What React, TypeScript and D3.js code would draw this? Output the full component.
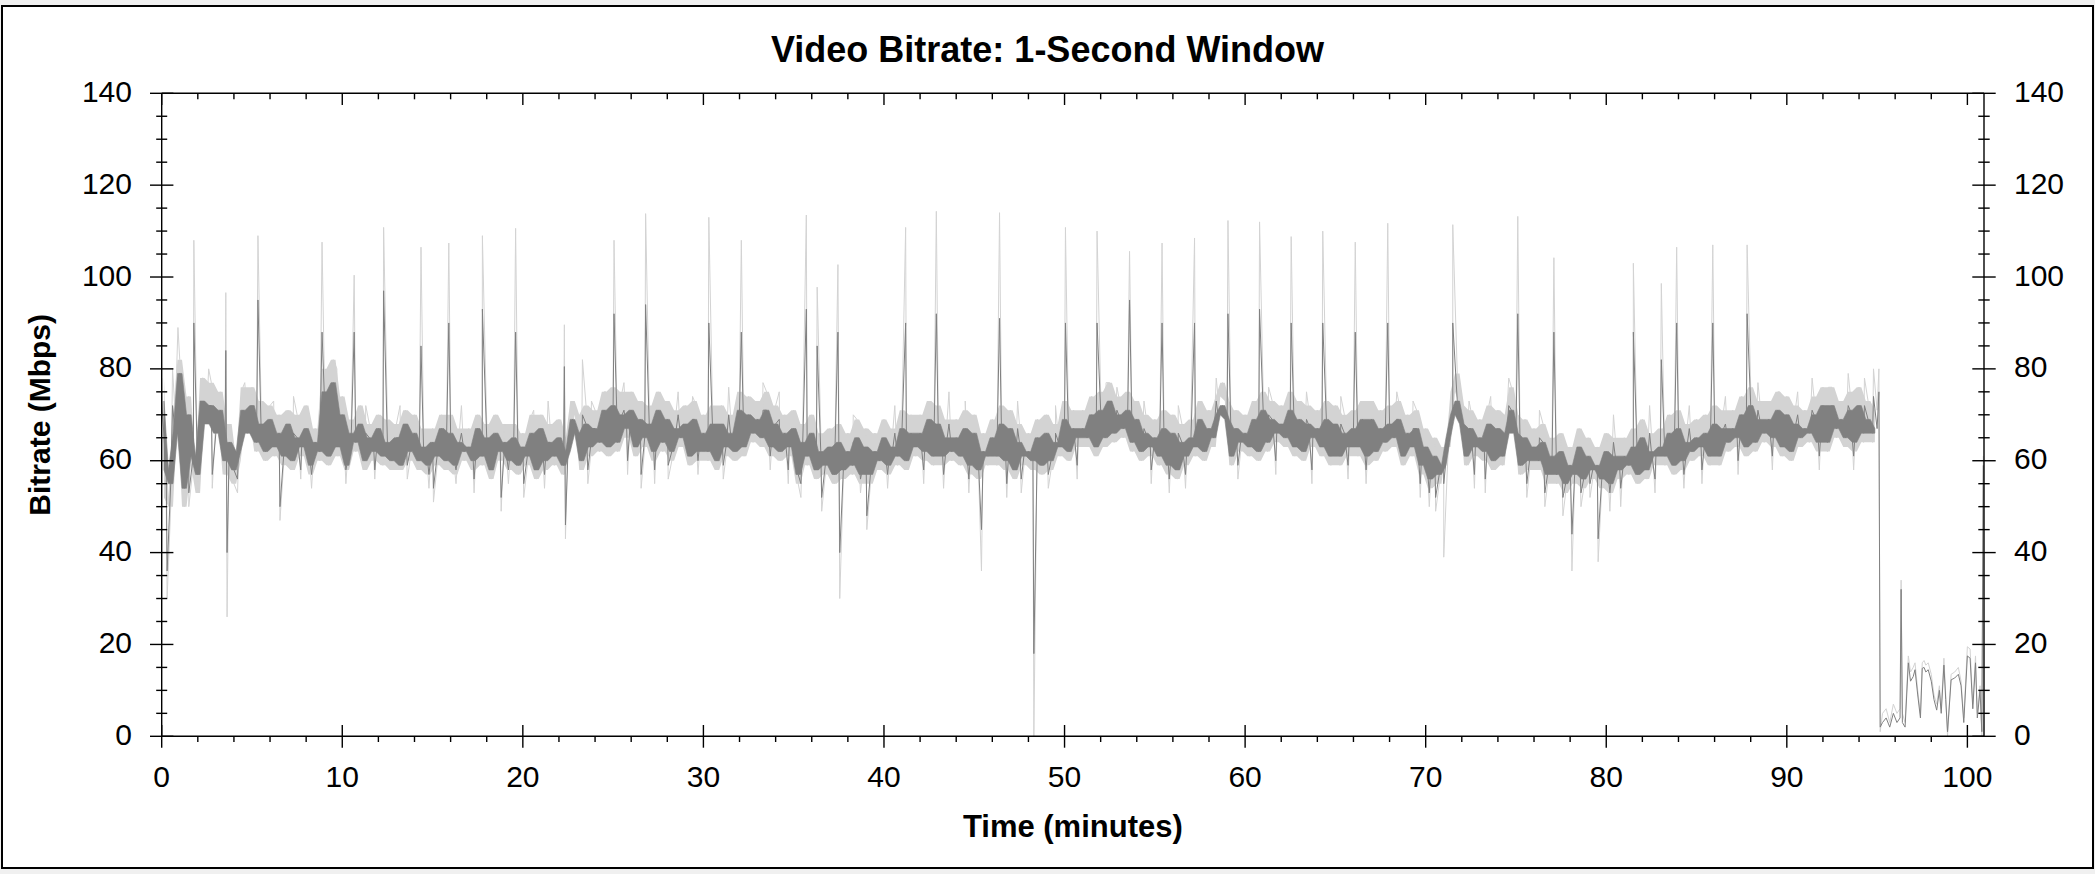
import React from 'react';
import * as d3 from 'd3';

const W = 2095;
const H = 874;

const TITLE = 'Video Bitrate: 1-Second Window';
const X_LABEL = 'Time (minutes)';
const Y_LABEL = 'Bitrate (Mbps)';

const xMajorTicks = [0, 10, 20, 30, 40, 50, 60, 70, 80, 90, 100];
const yMajorTicks = [0, 20, 40, 60, 80, 100, 120, 140];
const X_MAX = 100.92;
const Y_MAX = 140;

// Regular samples every 0.25 minute from 0 to 95 minutes (5 minutes per row)
const GRID_START = 0;
const GRID_STEP = 0.25;

const darkMbps = [
  73, 58, 55, 66, 79, 54, 70, 61, 57, 73, 68, 72, 66, 71, 60, 64, 58, 62, 71, 66,
  72, 64, 68, 62, 69, 63, 66, 61, 68, 60, 65, 63, 67, 59, 64, 62, 75, 61, 77, 63,
  70, 59, 66, 64, 68, 60, 65, 62, 67, 61, 64, 60, 65, 59, 68, 62, 66, 60, 63, 59,
  64, 61, 67, 60, 66, 59, 64, 62, 63, 60, 67, 61, 65, 58, 66, 62, 64, 60, 65, 59,
  63, 61, 66, 58, 67, 60, 64, 61, 65, 59, 62, 69, 66, 60, 68, 63, 67, 64, 71, 63,
  72, 64, 70, 67, 71, 63, 69, 65, 68, 62, 71, 64, 69, 62, 67, 65, 68, 61, 69, 62,
  66, 62, 68, 60, 68, 63, 66, 62, 71, 63, 70, 66, 69, 65, 71, 63, 68, 62, 66, 63,
  67, 57, 64, 61, 66, 58, 62, 59, 63, 57, 64, 58, 62, 59, 65, 57, 63, 57, 62, 60,
  65, 59, 63, 61, 67, 60, 66, 63, 66, 62, 69, 61, 68, 61, 65, 62, 65, 61, 67, 59,
  66, 58, 62, 61, 65, 61, 68, 60, 67, 58, 64, 61, 62, 60, 65, 59, 66, 60, 64, 63,
  69, 62, 67, 65, 67, 65, 70, 63, 71, 65, 73, 66, 70, 67, 71, 64, 69, 62, 66, 63,
  65, 61, 67, 59, 66, 58, 64, 61, 65, 63, 69, 62, 67, 65, 70, 72, 69, 61, 67, 64,
  66, 63, 69, 62, 71, 64, 69, 66, 68, 65, 71, 63, 69, 62, 68, 65, 67, 63, 69, 61,
  68, 61, 66, 63, 67, 63, 69, 61, 69, 62, 67, 64, 68, 65, 69, 61, 66, 63, 67, 59,
  63, 56, 61, 57, 59, 65, 70, 73, 68, 61, 67, 63, 65, 62, 68, 60, 67, 61, 66, 71,
  66, 59, 65, 60, 63, 60, 64, 57, 61, 57, 62, 55, 59, 57, 63, 56, 61, 58, 59, 56,
  62, 55, 61, 58, 61, 59, 63, 57, 65, 58, 62, 61, 63, 61, 66, 59, 67, 60, 64, 62,
  65, 63, 66, 61, 68, 61, 67, 64, 67, 65, 70, 63, 72, 64, 69, 66, 69, 65, 71, 63,
  70, 62, 68, 65, 67, 66, 70, 64, 72, 64, 72, 67, 69, 65, 71, 64, 72, 66, 69, 66,
  67,
];

const lightMbps = [
  78, 52, 50, 70, 82, 50, 74, 59, 53, 78, 71, 77, 69, 75, 57, 68, 55, 60, 76, 69,
  76, 62, 73, 60, 72, 61, 70, 59, 71, 58, 70, 61, 72, 57, 67, 60, 80, 59, 82, 61,
  74, 58, 69, 62, 72, 58, 68, 60, 70, 59, 69, 58, 68, 58, 71, 60, 70, 58, 67, 57,
  67, 59, 70, 58, 70, 57, 67, 60, 67, 58, 70, 59, 68, 56, 70, 60, 68, 58, 68, 57,
  66, 59, 70, 56, 70, 58, 68, 59, 69, 57, 65, 73, 70, 58, 72, 61, 71, 62, 75, 61,
  76, 62, 75, 65, 75, 61, 73, 63, 72, 60, 75, 62, 73, 60, 71, 63, 72, 59, 73, 60,
  70, 60, 72, 58, 72, 61, 70, 60, 75, 61, 74, 64, 73, 63, 75, 61, 72, 60, 70, 61,
  71, 55, 68, 59, 70, 56, 66, 57, 67, 55, 68, 56, 66, 57, 69, 55, 67, 55, 66, 58,
  69, 57, 67, 59, 71, 58, 70, 61, 70, 60, 73, 59, 72, 59, 69, 60, 69, 59, 71, 57,
  70, 56, 66, 59, 69, 59, 72, 58, 71, 56, 68, 59, 66, 58, 69, 57, 70, 58, 68, 61,
  73, 60, 71, 63, 71, 63, 74, 61, 75, 63, 77, 64, 74, 65, 75, 62, 73, 60, 70, 61,
  69, 59, 71, 57, 70, 56, 68, 59, 69, 61, 73, 60, 71, 63, 74, 77, 73, 59, 71, 62,
  70, 61, 73, 60, 75, 62, 73, 64, 72, 63, 75, 61, 73, 60, 72, 63, 71, 61, 73, 59,
  72, 59, 70, 61, 71, 61, 73, 59, 73, 60, 71, 62, 72, 63, 73, 59, 70, 61, 71, 57,
  67, 54, 65, 55, 63, 63, 75, 79, 72, 59, 71, 61, 69, 60, 72, 58, 71, 59, 70, 76,
  70, 57, 69, 58, 67, 58, 68, 55, 65, 55, 66, 53, 63, 55, 67, 54, 65, 56, 63, 54,
  66, 53, 65, 56, 65, 57, 67, 55, 69, 56, 66, 59, 67, 59, 70, 57, 71, 58, 68, 60,
  69, 61, 70, 59, 72, 59, 71, 62, 71, 63, 74, 61, 76, 62, 73, 64, 73, 63, 75, 61,
  74, 60, 72, 63, 71, 64, 74, 62, 76, 62, 76, 65, 73, 63, 75, 62, 76, 64, 73, 64,
  71,
];

// Large bursts: keyframe spikes and sharp drops
const burstMinutes = [
  0.3, 0.9, 1.78, 2.6, 3.55, 3.62, 5.33, 6.55, 8.88, 10.66, 12.29, 14.36, 15.05,
  15.9, 17.3, 17.76, 18.8, 19.6, 20.05, 22.3, 22.36, 23.3, 25.05, 26.55, 26.8, 27.3,
  28.05, 30.3, 32.1, 35.7, 36.3, 36.55, 37.45, 37.55, 39.05, 41.2, 42.9, 45.4, 46.4,
  48.3, 50.05, 51.8, 53.6, 55.4, 57.2, 59.05, 60.8, 62.55, 64.3, 66.1, 67.9, 70.55,
  71.0, 71.5, 75.1, 77.1, 78.1, 79.55, 81.5, 83.05, 83.9, 85.9, 87.8,
];
const burstLight = [
  30, 89, 108, 80, 96.6, 26, 109, 47, 107.6, 100.4, 110.8, 106.5, 51,
  107.4, 53, 109, 49, 110.6, 52, 89.6, 43, 82, 108, 54, 113.8, 55,
  56, 113, 108, 113.5, 97.8, 49, 102.7, 30, 45, 110.8, 114.3, 36, 114,
  0, 110.8, 110, 105.6, 107.4, 108.5, 112.3, 112, 108.8, 110, 107.6, 111.7, 49,
  39, 111.4, 113.2, 104.2, 36, 38, 103, 98.6, 106.5, 107, 107,
];
const burstDark = [
  36, 78, 90, 72, 84, 40, 95, 50, 88, 88, 97, 85, 54,
  90, 56, 93, 52, 88, 55, 80.5, 46, 70, 92, 57, 94, 58,
  59, 90, 88, 93, 85, 52, 88, 40, 48, 90, 92, 45, 91,
  18, 90, 90, 95, 90, 90, 92, 93, 90, 90, 88, 90, 52,
  55, 90, 92, 88, 44, 43, 88, 82, 90, 90, 92,
];

// Small one-sample flickers above and below the main band
const flickerMinutes = [
  0.6, 2.3, 4.6, 6.2, 7.3, 9.7, 11.3, 13.2, 16.6, 20.6, 21.4, 23.8, 24.6, 25.6, 28.6,
  29.4, 31.4, 33.3, 34.2, 38.3, 40.6, 43.6, 44.5, 47.4, 49.5, 52.3, 52.9, 54.4, 56.3,
  58.4, 61.3, 63.4, 65.3, 68.4, 69.3, 72.4, 73.6, 74.6, 76.3, 80.4, 82.4, 84.6, 86.6,
  88.4, 89.6, 90.6, 91.4, 92.3, 93.4, 94.3, 94.8,
  1.5, 2.8, 4.2, 7.7, 8.3, 10.2, 11.8, 13.6, 14.8, 16.3, 19.2, 21.2, 23.6, 25.8, 29.7,
  31.1, 33.7, 34.7, 35.4, 38.7, 40.2, 42.2, 43.3, 44.7, 46.8, 47.6, 49.1, 50.7, 54.8,
  55.8, 56.7, 59.6, 61.7, 63.7, 65.7, 66.7, 69.7, 70.2, 72.7, 73.3, 75.6, 76.6, 77.6,
  78.6, 79.1, 80.2, 80.8, 82.7, 84.3, 85.3, 87.3, 89.2, 91.8, 93.7,
];
const flickerLight = [
  80, 78, 77, 73, 74, 80, 72, 72, 72, 71, 73, 73, 75, 77, 75,
  74, 76, 77, 75, 70, 72, 75, 73, 73, 72, 77, 76, 73, 72,
  78, 76, 75, 74, 75, 73, 73, 74, 78, 71, 70, 72, 72, 74,
  77, 75, 75, 78, 76, 79, 78, 80,
  50, 54, 53, 56, 54, 55, 56, 56, 54, 55, 55, 54, 55, 57, 57,
  56, 58, 55, 52, 53, 54, 55, 54, 53, 52, 53, 54, 56, 55,
  53, 54, 56, 57, 55, 56, 55, 52, 50, 54, 53, 52, 50, 48,
  50, 52, 49, 50, 53, 54, 55, 57, 58, 58, 58,
];
const flickerDark = [
  72, 70, 70, 67, 66, 72, 66, 65, 66, 65, 64, 67, 69, 71, 70,
  69, 70, 71, 69, 64, 66, 68, 67, 67, 66, 72, 71, 67, 66,
  73, 70, 69, 68, 69, 67, 67, 67, 72, 65, 64, 66, 67, 68,
  71, 69, 70, 71, 71, 72, 72, 74,
  53, 57, 56, 58, 57, 58, 58, 59, 57, 58, 58, 57, 58, 60, 60,
  59, 61, 58, 55, 56, 57, 58, 57, 56, 55, 56, 57, 59, 58,
  56, 57, 59, 60, 58, 59, 58, 55, 53, 57, 56, 55, 53, 52,
  53, 55, 53, 54, 56, 57, 58, 60, 61, 61, 61,
];

// Final minutes after the drop
const tailMinutes = [
  95.1, 95.17, 95.3, 95.5, 95.7, 95.9, 96.1, 96.27, 96.33, 96.4, 96.55, 96.73, 96.85,
  97.0, 97.1, 97.25, 97.4, 97.5, 97.6, 97.7, 97.83, 98.0, 98.15, 98.3, 98.45, 98.55,
  98.7, 98.8, 98.9, 99.1, 99.3, 99.5, 99.65, 99.8, 100.0, 100.15, 100.3, 100.45,
  100.55, 100.7, 100.8, 100.88,
];
const tailDark = [
  75, 2, 3, 4, 2, 5, 3, 4, 32, 3, 2, 16, 12,
  13, 14.5, 9, 4, 14.8, 15, 14, 14.5, 12, 8, 5.7, 10, 5,
  15.5, 8, 1, 12.3, 12.7, 13.5, 11, 3, 17.5, 17, 6, 16,
  4, 10, 1, 59,
];
const tailLight = [
  80, 1, 5, 6, 3, 7, 5, 6, 34, 5, 3, 17.5, 14,
  15, 16, 10, 5, 16, 16.5, 15.5, 16, 13.5, 9, 7, 11, 6,
  17, 9, 0, 13.5, 14, 15, 12, 4, 19.5, 19, 7, 17.5,
  5, 11, 0, 61,
];

type Pt = [number, number];
type Env = { t: number; lo: number; hi: number };

function buildSeries(grid: number[], burst: number[], flicker: number[], tail: number[]): Pt[] {
  const pts: Pt[] = grid.map((v, i) => [GRID_START + i * GRID_STEP, v] as Pt);
  burstMinutes.forEach((t, i) => pts.push([t, burst[i]]));
  flickerMinutes.forEach((t, i) => pts.push([t, flicker[i]]));
  tailMinutes.forEach((t, i) => pts.push([t, tail[i]]));
  pts.sort((a, b) => a[0] - b[0]);
  return pts;
}

// Range swept by the trace over each sampling interval (as a dense plot shows it)
function sweptRange(grid: number[]): Env[] {
  const out: Env[] = [];
  for (let i = 0; i < grid.length - 1; i++) {
    out.push({
      t: GRID_START + (i + 0.5) * GRID_STEP,
      lo: Math.min(grid[i], grid[i + 1]),
      hi: Math.max(grid[i], grid[i + 1]),
    });
  }
  return out;
}

const PLOT_LEFT = 161.7;
const PLOT_RIGHT = 1984;
const PLOT_TOP = 93.3;
const PLOT_BOTTOM = 736.3;

const FONT = '"Liberation Sans", Arial, Helvetica, sans-serif';
const DARK = '#808080';
const LIGHT = '#d3d3d3';

export default function App() {
  const x = d3.scaleLinear().domain([0, X_MAX]).range([PLOT_LEFT, PLOT_RIGHT]);
  const y = d3.scaleLinear().domain([0, Y_MAX]).range([PLOT_BOTTOM, PLOT_TOP]);

  const line = d3
    .line<Pt>()
    .x((d) => x(d[0]))
    .y((d) => y(d[1]));
  const area = d3
    .area<Env>()
    .x((d) => x(d.t))
    .y0((d) => y(d.lo))
    .y1((d) => y(d.hi));

  const light = buildSeries(lightMbps, burstLight, flickerLight, tailLight);
  const dark = buildSeries(darkMbps, burstDark, flickerDark, tailDark);
  const lightEnv = sweptRange(lightMbps);
  const darkEnv = sweptRange(darkMbps);

  const xMinor = d3.range(0, 101, 2).filter((v) => v % 10 !== 0);
  const yMinor = d3.range(0, 141, 5).filter((v) => v % 20 !== 0);

  const sw = 1.4;

  return (
    <div style={{ position: 'absolute', left: 0, top: 0, width: W, height: H }}>
      <svg width={W} height={H} style={{ display: 'block' }}>
        <rect x={0} y={0} width={W} height={H} fill="#f0f0f0" />
        <rect x={2} y={6} width={2091} height={862} fill="#fff" stroke="#000" strokeWidth={2} />

        <text x={W / 2} y={62} textAnchor="middle" fontFamily={FONT} fontWeight="bold" fontSize={36}>
          {TITLE}
        </text>

        {/* data */}
        <path d={area(lightEnv) || ''} fill={LIGHT} stroke="none" />
        <path d={line(light) || ''} fill="none" stroke={LIGHT} strokeWidth={1} />
        <path d={area(darkEnv) || ''} fill={DARK} stroke={DARK} strokeWidth={0.6} />
        <path d={line(dark) || ''} fill="none" stroke={DARK} strokeWidth={1} />

        {/* frame axes */}
        <g stroke="#000" strokeWidth={sw}>
          <line x1={PLOT_LEFT} x2={PLOT_LEFT} y1={PLOT_TOP} y2={PLOT_BOTTOM} />
          <line x1={PLOT_RIGHT} x2={PLOT_RIGHT} y1={PLOT_TOP} y2={PLOT_BOTTOM} />
          <line x1={PLOT_LEFT} x2={PLOT_RIGHT} y1={PLOT_TOP} y2={PLOT_TOP} />
          <line x1={PLOT_LEFT} x2={PLOT_RIGHT} y1={PLOT_BOTTOM} y2={PLOT_BOTTOM} />

          {yMajorTicks.map((v) => (
            <g key={'ym' + v}>
              <line x1={PLOT_LEFT - 11.7} x2={PLOT_LEFT + 11.7} y1={y(v)} y2={y(v)} />
              <line x1={PLOT_RIGHT - 11.7} x2={PLOT_RIGHT + 11.7} y1={y(v)} y2={y(v)} />
            </g>
          ))}
          {yMinor.map((v) => (
            <g key={'yn' + v}>
              <line x1={PLOT_LEFT - 5.5} x2={PLOT_LEFT + 5.5} y1={y(v)} y2={y(v)} />
              <line x1={PLOT_RIGHT - 5.7} x2={PLOT_RIGHT + 5.7} y1={y(v)} y2={y(v)} />
            </g>
          ))}
          {xMajorTicks.map((v) => (
            <g key={'xm' + v}>
              <line x1={x(v)} x2={x(v)} y1={PLOT_BOTTOM - 11.3} y2={PLOT_BOTTOM + 11.4} />
              <line x1={x(v)} x2={x(v)} y1={PLOT_TOP} y2={PLOT_TOP + 11.7} />
            </g>
          ))}
          {xMinor.map((v) => (
            <g key={'xn' + v}>
              <line x1={x(v)} x2={x(v)} y1={PLOT_BOTTOM} y2={PLOT_BOTTOM + 5.7} />
              <line x1={x(v)} x2={x(v)} y1={PLOT_TOP} y2={PLOT_TOP + 6} />
            </g>
          ))}
        </g>

        {/* tick labels */}
        <g fontFamily={FONT} fontSize={30} fill="#000">
          {yMajorTicks.map((v) => (
            <g key={'yl' + v}>
              <text x={132} y={y(v) + 8.5} textAnchor="end">
                {v}
              </text>
              <text x={2014} y={y(v) + 8.5} textAnchor="start">
                {v}
              </text>
            </g>
          ))}
          {xMajorTicks.map((v) => (
            <text key={'xl' + v} x={x(v)} y={786.7} textAnchor="middle">
              {v}
            </text>
          ))}
        </g>

        <text
          x={(PLOT_LEFT + PLOT_RIGHT) / 2}
          y={837.3}
          textAnchor="middle"
          fontFamily={FONT}
          fontWeight="bold"
          fontSize={31}
        >
          {X_LABEL}
        </text>
        <text
          transform={`translate(50, ${(PLOT_TOP + PLOT_BOTTOM) / 2}) rotate(-90)`}
          textAnchor="middle"
          fontFamily={FONT}
          fontWeight="bold"
          fontSize={30}
        >
          {Y_LABEL}
        </text>
      </svg>
    </div>
  );
}
